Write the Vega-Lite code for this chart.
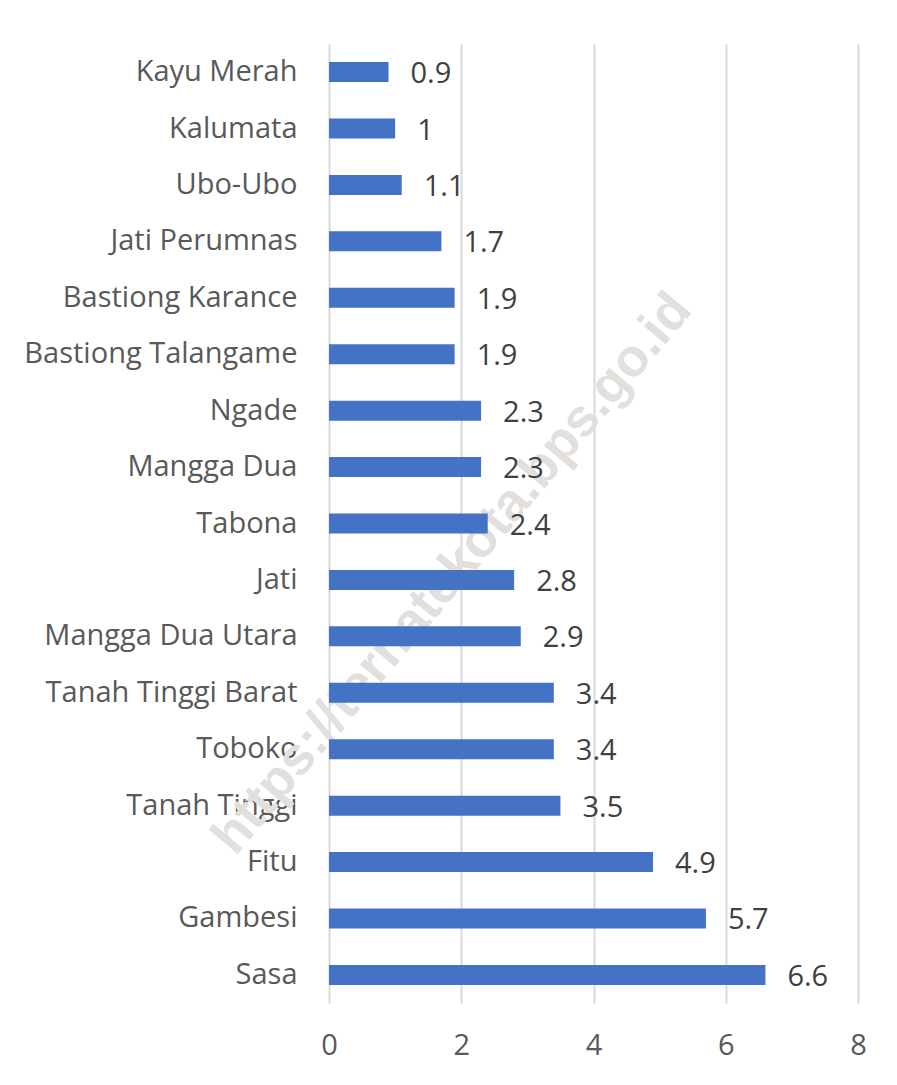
{
  "$schema": "https://vega.github.io/schema/vega-lite/v6.json",
  "autosize": {"type": "none"},
  "width": 529,
  "height": 959,
  "padding": {"left": 329, "top": 44, "right": 39, "bottom": 82},
  "background": "white",
  "config": {"view": {"stroke": null}, "font": "Open Sans"},
  "data": {"values": [
    {"kel": "Kayu Merah", "v": 0.9},
    {"kel": "Kalumata", "v": 1},
    {"kel": "Ubo-Ubo", "v": 1.1},
    {"kel": "Jati Perumnas", "v": 1.7},
    {"kel": "Bastiong Karance", "v": 1.9},
    {"kel": "Bastiong Talangame", "v": 1.9},
    {"kel": "Ngade", "v": 2.3},
    {"kel": "Mangga Dua", "v": 2.3},
    {"kel": "Tabona", "v": 2.4},
    {"kel": "Jati", "v": 2.8},
    {"kel": "Mangga Dua Utara", "v": 2.9},
    {"kel": "Tanah Tinggi Barat", "v": 3.4},
    {"kel": "Toboko", "v": 3.4},
    {"kel": "Tanah Tinggi", "v": 3.5},
    {"kel": "Fitu", "v": 4.9},
    {"kel": "Gambesi", "v": 5.7},
    {"kel": "Sasa", "v": 6.6}
  ]},
  "encoding": {
    "y": {"field": "kel", "type": "nominal", "sort": null,
      "scale": {"domain": ["Kayu Merah", "Kalumata", "Ubo-Ubo", "Jati Perumnas", "Bastiong Karance", "Bastiong Talangame", "Ngade", "Mangga Dua", "Tabona", "Jati", "Mangga Dua Utara", "Tanah Tinggi Barat", "Toboko", "Tanah Tinggi", "Fitu", "Gambesi", "Sasa"], "paddingInner": 0.645, "paddingOuter": 0.32},
      "axis": {"title": null, "ticks": false, "domain": false, "labelFontSize": 29, "labelColor": "#595959", "labelPadding": 32, "labelFont": "Open Sans", "labelLimit": 400}},
    "x": {"field": "v", "type": "quantitative",
      "scale": {"domain": [0, 8], "nice": false},
      "axis": {"title": null, "values": [0, 2, 4, 6, 8], "ticks": false, "domain": false, "grid": true, "gridColor": "#d9d9d9", "gridWidth": 2, "labelFontSize": 29, "labelColor": "#595959", "labelPadding": 28, "labelFont": "Open Sans", "labelFlush": false}}
  },
  "layer": [
    {"data": {"values": [{"w": "https://ternatekota.bps.go.id", "x": 1.98, "k": "Jati"}]},
     "mark": {"type": "text", "angle": 310, "fontSize": 53, "fontWeight": "bold", "color": "#e2dfdc", "align": "center", "baseline": "middle", "dy": -10, "font": "Liberation Sans"},
     "encoding": {"x": {"field": "x", "type": "quantitative"}, "y": {"field": "k", "type": "nominal", "sort": null}, "text": {"field": "w"}}},
    {"mark": {"type": "bar", "color": "#4472C4"}},
    {"mark": {"type": "text", "align": "left", "baseline": "middle", "dx": 22, "dy": 2, "fontSize": 29, "color": "#404040", "font": "Open Sans"},
     "encoding": {"text": {"field": "v", "type": "quantitative"}}}
  ]
}
